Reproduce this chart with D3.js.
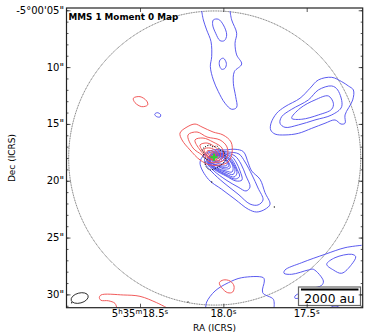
<!DOCTYPE html>
<html>
<head>
<meta charset="utf-8">
<script src="https://cdn.jsdelivr.net/npm/d3@7"></script>
<style>
	html, body { margin: 0; padding: 0; background: #fff; }
	text { font-family: "DejaVu Sans", sans-serif; fill: #000; }
</style>
</head>
<body>
<script>
'use strict';

// Contours, as [RA seconds, Dec arcsec past -5 00']
const blueOpen = [
	[[18.130,5.06],[18.120,5.85],[18.100,6.73],[18.074,7.76],[18.070,9.08],[18.078,9.96],[18.060,11.13],[18.030,12.16],[17.990,13.18],[17.950,13.71],[17.920,13.54],[17.926,12.60],[17.940,11.42],[17.934,10.40],[17.890,9.73],[17.920,8.93],[17.930,7.90],[17.920,7.02],[17.950,5.85],[17.960,5.06]],
	[[18.106,31.17],[18.100,30.67],[18.050,29.70],[17.970,28.97],[17.890,28.53],[17.760,28.53],[17.754,28.82],[17.764,29.85],[17.700,30.43],[17.696,31.17]],
	[[17.170,25.68],[17.270,25.89],[17.390,26.47],[17.530,27.21],[17.630,27.85],[17.636,28.14],[17.590,28.23],[17.490,27.85],[17.460,27.79],[17.400,28.82],[17.410,29.20],[17.470,29.50],[17.570,30.14],[17.570,30.34],[17.550,30.34]],
	[[17.360,31.17],[17.330,31.02],[17.300,31.17]]
];
const blueClosed = [
	[[18.060,5.85],[18.030,5.79],[18.000,6.29],[17.980,7.17],[17.994,7.67],[18.020,7.67],[18.046,7.02],[18.064,6.29]],
	[[18.020,9.37],[18.000,9.22],[17.982,9.66],[17.990,10.10],[18.010,10.19],[18.024,9.81]],
	[[17.716,15.53],[17.714,14.94],[17.680,14.06],[17.630,13.48],[17.540,12.74],[17.480,11.86],[17.430,11.13],[17.350,10.90],[17.290,11.28],[17.250,11.66],[17.220,12.01],[17.224,12.89],[17.270,14.21],[17.270,14.94],[17.294,15.01],[17.330,14.65],[17.390,14.94],[17.470,15.39],[17.550,15.83],[17.630,15.97],[17.690,15.89]],
	[[17.660,14.94],[17.650,14.36],[17.590,13.71],[17.490,12.89],[17.430,12.01],[17.350,11.66],[17.314,12.01],[17.290,13.48],[17.350,14.21],[17.450,14.65],[17.550,15.09],[17.630,15.30]],
	[[17.590,14.50],[17.540,13.63],[17.450,12.89],[17.370,12.54],[17.340,13.18],[17.350,13.71],[17.430,14.21],[17.530,14.59]],
	[[18.412,14.15],[18.396,14.01],[18.376,14.19],[18.380,14.39],[18.400,14.36]],
	[[17.380,27.35],[17.330,26.77],[17.230,26.47],[17.206,26.68],[17.230,27.35],[17.290,28.14],[17.340,27.85]],
	// nested contours of the central source, outer to inner
	[[18.14,18.44],[18.09,19.87],[18.01,20.75],[17.93,21.63],[17.85,22.51],[17.80,22.75],[17.75,22.51],[17.72,22.07],[17.75,21.05],[17.78,19.87],[17.83,19.14],[17.85,18.46],[17.88,17.44],[17.93,17.23],[17.99,17.29],[18.062,17.29],[18.116,17.73]],
	[[18.11,18.44],[18.068,19.23],[17.996,20.20],[17.912,21.17],[17.84,22.05],[17.792,22.13],[17.762,21.69],[17.792,20.64],[17.828,19.49],[17.87,18.35],[17.906,17.65],[17.972,17.47],[18.044,17.38],[18.104,17.73]],
	[[18.098,18.44],[18.056,19.14],[17.984,19.93],[17.912,20.55],[17.864,20.90],[17.84,20.55],[17.864,19.58],[17.894,18.53],[17.93,17.82],[17.984,17.56],[18.05,17.47],[18.092,17.91]],
	[[18.092,18.44],[18.05,19.05],[17.984,19.58],[17.924,20.02],[17.888,19.93],[17.90,19.14],[17.924,18.35],[17.954,17.82],[17.996,17.65],[18.05,17.56],[18.086,17.91]],
	[[18.09,18.44],[18.047,19.01],[17.984,19.50],[17.93,19.85],[17.903,19.62],[17.918,18.98],[17.945,18.20],[17.975,17.75],[18.02,17.60],[18.088,17.95]],
	[[18.086,18.44],[18.044,18.97],[17.984,19.41],[17.936,19.67],[17.918,19.32],[17.936,18.61],[17.966,18.00],[18.008,17.65],[18.056,17.56],[18.08,18.00]],
	[[18.083,18.44],[18.041,18.92],[17.984,19.27],[17.942,19.45],[17.93,19.05],[17.951,18.40],[17.987,17.85],[18.03,17.68],[18.08,18.00]],
	[[18.08,18.44],[18.038,18.88],[17.984,19.14],[17.948,19.23],[17.942,18.79],[17.966,18.17],[18.008,17.73],[18.056,17.65],[18.08,18.00]],
	[[18.08,18.35],[18.038,18.70],[17.99,18.97],[17.96,18.88],[17.966,18.44],[17.996,17.91],[18.044,17.73],[18.074,18.00]],
	[[18.077,18.35],[18.038,18.65],[17.994,18.83],[17.969,18.75],[17.975,18.30],[18.008,17.87],[18.05,17.78],[18.077,18.05]],
	[[18.074,18.35],[18.038,18.61],[17.996,18.70],[17.978,18.61],[17.984,18.17],[18.02,17.82],[18.056,17.82],[18.074,18.09]],
	[[18.068,18.26],[18.038,18.44],[18.008,18.53],[17.99,18.35],[18.008,18.00],[18.038,17.82],[18.062,18.00]],
	[[18.068,18.17],[18.032,18.35],[18.008,18.26],[18.02,18.00],[18.05,17.91]],
	[[18.062,18.17],[18.032,18.26],[18.02,18.17],[18.038,18.00],[18.056,18.00]]
];
const redOpen = [
	[[18.640,31.17],[18.650,30.79],[18.690,30.56],[18.734,30.52],[18.744,30.29],[18.734,30.05],[18.600,30.05],[18.500,30.17],[18.400,30.73],[18.340,31.17]]
];
const redClosed = [
	[[18.540,12.74],[18.500,12.60],[18.460,12.98],[18.454,13.33],[18.490,13.48],[18.530,13.13]],
	[[18.024,28.97],[18.000,28.73],[17.960,28.82],[17.936,29.26],[17.944,29.79],[17.974,29.85],[18.010,29.41]],
	[[18.26,15.80],[18.218,15.27],[18.17,15.01],[18.128,15.27],[18.062,15.71],[18.002,15.97],[17.954,16.59],[17.948,17.56],[17.972,18.35],[18.02,18.61],[18.08,18.61],[18.14,18.17],[18.20,17.29],[18.248,16.41]],
	[[18.212,15.97],[18.158,15.71],[18.098,16.15],[18.02,16.41],[17.978,17.03],[17.978,17.91],[18.02,18.35],[18.08,18.35],[18.128,17.73],[18.182,17.12]],
	[[18.17,16.41],[18.122,16.24],[18.062,16.59],[18.008,17.12],[18.002,17.91],[18.038,18.26],[18.092,18.00],[18.14,17.29]],
	[[18.14,16.85],[18.098,16.68],[18.05,17.03],[18.02,17.47],[18.02,17.91],[18.056,18.17],[18.098,17.82],[18.128,17.29]],
	[[18.116,17.21],[18.08,17.12],[18.044,17.38],[18.032,17.82],[18.062,18.09],[18.098,17.73]],
	[[18.098,17.38],[18.068,17.38],[18.044,17.65],[18.056,17.91],[18.086,17.73]],
	[[18.08,17.56],[18.062,17.56],[18.05,17.73],[18.068,17.82]]
];
const noiseContour = [[18.128,17.29],[18.11,17.03],[18.08,16.85],[18.062,17.03],[18.038,16.94],[18.02,17.29],[17.996,17.47],[17.99,17.82],[17.984,18.17],[18.002,18.44],[18.02,18.70],[18.044,18.88],[18.08,19.05],[18.098,18.88],[18.11,18.44],[18.098,18.09],[18.122,17.91],[18.116,17.56]];
const noiseDots = [[17.694,22.31],[18.212,30.67],[18.07,20.11],[18.91,30.73]];
const sourcePos = [18.056, 17.93];
const pbCircle = { ra: 18.052, dec: 18.00, rRa: 0.876, rDec: 12.94 };
const beam = { ra: 18.862, dec: 30.32, major: 0.77, minor: 0.44, angle: -15 };

const decTicks = [5, 10, 15, 20, 25, 30];
const decMinor = d3.range(5, 32);
const decLabels = ["-5°00'05\"", '10"', '15"', '20"', '25"', '30"'];
const raTicks = [18.5, 18.0, 17.5];
const raLabels = [
	[["5", 0], ["h", 1], ["35", 0], ["m", 1], ["18.5", 0], ["s", 1]],
	[["18.0", 0], ["s", 1]],
	[["17.5", 0], ["s", 1]]
];

const params = { width: 370, height: 333, left: 66.5, right: 362.7, top: 8, bottom: 307.7 };

const svg = d3.select("body").append("svg")
	.attr("width", params.width)
	.attr("height", params.height)
	.style("display", "block");

const xScale = d3.scaleLinear().domain([18.941, 17.164]).range([params.left, params.right]);
const yScale = d3.scaleLinear().domain([4.8, 31.17]).range([params.top, params.bottom]);

svg.append("clipPath").attr("id", "plot-clip").append("rect")
	.attr("x", params.left).attr("y", params.top)
	.attr("width", params.right - params.left)
	.attr("height", params.bottom - params.top);

const plot = svg.append("g").attr("clip-path", "url(#plot-clip)");

const openLine = d3.line().x(d => xScale(d[0])).y(d => yScale(d[1])).curve(d3.curveCatmullRom);
const closedLine = d3.line().x(d => xScale(d[0])).y(d => yScale(d[1])).curve(d3.curveCatmullRomClosed);

const drawContours = (rows, lineFn, color, width) => {
	plot.append("g").selectAll("path").data(rows).join("path")
		.attr("d", lineFn)
		.attr("fill", "none")
		.attr("stroke", color)
		.attr("stroke-width", width);
}

// primary beam circle
plot.append("ellipse")
	.attr("cx", xScale(pbCircle.ra)).attr("cy", yScale(pbCircle.dec))
	.attr("rx", xScale(pbCircle.ra - pbCircle.rRa) - xScale(pbCircle.ra))
	.attr("ry", yScale(pbCircle.dec + pbCircle.rDec) - yScale(pbCircle.dec))
	.attr("fill", "none").attr("stroke", "#444").attr("stroke-width", 0.8)
	.attr("stroke-dasharray", "1,0.7");

drawContours(blueOpen, openLine, "#5252ee", 0.95);
drawContours(blueClosed, closedLine, "#5252ee", 0.95);
drawContours(redOpen, openLine, "#f05252", 0.95);
drawContours(redClosed, closedLine, "#f05252", 0.95);

plot.append("path")
	.attr("d", closedLine(noiseContour))
	.attr("fill", "none").attr("stroke", "#111")
	.attr("stroke-width", 1).attr("stroke-dasharray", "1.2,1.4");

plot.append("g").selectAll("circle").data(noiseDots).join("circle")
	.attr("cx", d => xScale(d[0])).attr("cy", d => yScale(d[1]))
	.attr("r", 0.7).attr("fill", "#222");

// source marker
const sx = xScale(sourcePos[0]), sy = yScale(sourcePos[1]);
plot.append("path")
	.attr("d", `M${sx - 3.5},${sy}H${sx + 3.5}M${sx},${sy - 3.5}V${sy + 3.5}`)
	.attr("stroke", "#2fd02f").attr("stroke-width", 2).attr("fill", "none");

// synthesized beam
const beamPx = yScale(1) - yScale(0);
plot.append("ellipse")
	.attr("cx", 0).attr("cy", 0)
	.attr("rx", beam.major * beamPx).attr("ry", beam.minor * beamPx)
	.attr("transform", `translate(${xScale(beam.ra)},${yScale(beam.dec)}) rotate(${beam.angle})`)
	.attr("fill", "none").attr("stroke", "#111").attr("stroke-width", 0.8);

// scale bar
const bar = svg.append("g");
bar.append("rect")
	.attr("x", 298.5).attr("y", 287).attr("width", 62).attr("height", 18.5)
	.attr("fill", "#fff").attr("stroke", "#666").attr("stroke-width", 1.2);
bar.append("line")
	.attr("x1", 301).attr("x2", 358.5).attr("y1", 289.5).attr("y2", 289.5)
	.attr("stroke", "#000").attr("stroke-width", 2);
bar.append("text")
	.attr("x", 329.5).attr("y", 302.5)
	.attr("text-anchor", "middle").attr("font-size", 12.3)
	.text("2000 au");

// frame and ticks
const tickG = svg.append("g").attr("stroke", "#111").attr("fill", "none");
const addAxis = (axis, tx, ty) => {
	const g = tickG.append("g").attr("transform", `translate(${tx},${ty})`).call(axis);
	g.select(".domain").remove();
	g.selectAll("text").remove();
	g.selectAll("line").attr("stroke-width", 0.7).attr("stroke", "#111");
}

addAxis(d3.axisLeft(yScale).tickValues(decTicks).tickSize(-4), params.left, 0);
addAxis(d3.axisRight(yScale).tickValues(decTicks).tickSize(-4), params.right, 0);
addAxis(d3.axisLeft(yScale).tickValues(decMinor).tickSize(-2), params.left, 0);
addAxis(d3.axisRight(yScale).tickValues(decMinor).tickSize(-2), params.right, 0);
addAxis(d3.axisBottom(xScale).tickValues(raTicks).tickSize(-4), 0, params.bottom);
addAxis(d3.axisTop(xScale).tickValues(raTicks).tickSize(-4), 0, params.top);

svg.append("rect")
	.attr("x", params.left).attr("y", params.top)
	.attr("width", params.right - params.left)
	.attr("height", params.bottom - params.top)
	.attr("fill", "none").attr("stroke", "#222").attr("stroke-width", 1.2);

// tick labels
svg.append("g").selectAll("text").data(decTicks).join("text")
	.attr("x", params.left - 2.5)
	.attr("y", d => yScale(d) + 3.5)
	.attr("text-anchor", "end")
	.attr("font-size", 10)
	.text((d, i) => decLabels[i]);

const raText = svg.append("g").selectAll("text").data(raTicks).join("text")
	.attr("x", d => xScale(d))
	.attr("y", 317)
	.attr("text-anchor", "middle")
	.attr("font-size", 10);

raText.each(function(d, i) {
	const t = d3.select(this);
	let raised = 0;
	raLabels[i].forEach(part => {
		const shift = part[1] ? -3.5 : 0;
		t.append("tspan")
			.attr("dy", shift - raised)
			.attr("font-size", part[1] ? 7 : 10)
			.text(part[0]);
		raised = shift;
	});
});

svg.append("text")
	.attr("x", 214.5).attr("y", 331)
	.attr("text-anchor", "middle").attr("font-size", 9)
	.text("RA (ICRS)");

svg.append("text")
	.attr("transform", "translate(15,158) rotate(-90)")
	.attr("text-anchor", "middle").attr("font-size", 9)
	.text("Dec (ICRS)");

svg.append("text")
	.attr("x", 68.5).attr("y", 19.5)
	.attr("font-size", 8.8).attr("font-weight", "bold")
	.text("MMS 1 Moment 0 Map");
</script>
</body>
</html>
